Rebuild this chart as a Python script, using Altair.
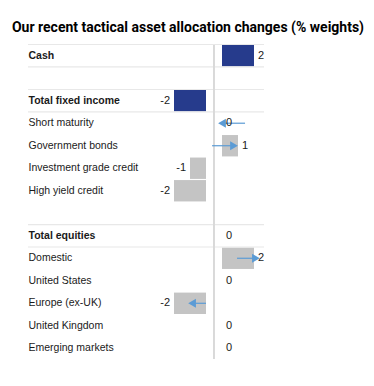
import altair as alt
import pandas as pd
import numpy as np

FONT = "Liberation Sans, Arial, sans-serif"
TFONT = "Roboto, sans-serif"

# row order including spacer rows
rows = ["Cash", "gap1", "Total fixed income", "Short maturity", "Government bonds",
        "Investment grade credit", "High yield credit", "gap2", "Total equities",
        "Domestic", "United States", "Europe (ex-UK)", "United Kingdom", "Emerging markets"]

categories = ["Cash", "Total fixed income", "Short maturity", "Government bonds",
              "Investment grade credit", "High yield credit", "Total equities",
              "Domestic", "United States", "Europe (ex-UK)", "United Kingdom",
              "Emerging markets"]
values = [2, -2, 0, 1, -1, -2, 0, 2, 0, -2, 0, 0]
kinds = ["total", "total", "sub", "sub", "sub", "sub", "total",
         "sub", "sub", "sub", "sub", "sub"]
bold_rows = ["Cash", "Total fixed income", "Total equities"]

# arrows (axis units)
arrow_rows = ["Short maturity", "Government bonds", "Domestic", "Europe (ex-UK)"]
arrow_start = [1.94, -0.12, 1.44, -0.5]
arrow_head = [0.5, 1.25, 2.62, -1.37]

sep_rows = ["Cash", "Total fixed income", "Total equities"]

df = pd.DataFrame({"row": categories, "v": values, "kind": kinds})
sgn = np.sign(df["v"])
df["start"] = sgn * 0.5
df["end"] = df["v"] + sgn * 0.5
df.loc[df["v"] == 0, "end"] = 0.5
df["label"] = df["v"].astype(str)
df["zero"] = 0.0

adf = pd.DataFrame({"row": arrow_rows, "a0": arrow_start, "a1": arrow_head})
adf["dir"] = np.where(adf["a1"] > adf["a0"], "right", "left")

sdf = pd.DataFrame({"row": sep_rows})

W, H = 236, 314
step = H / len(rows)

yscale = alt.Scale(domain=rows, paddingInner=0.05, paddingOuter=0)
xscale = alt.Scale(domain=[-11.625, 3.125], nice=False, zero=False)

bold_list = ",".join("'%s'" % b for b in bold_rows)
yaxis = alt.Axis(
    title=None, orient="left", ticks=False, tickSize=0, domain=False, grid=False,
    labelAlign="left", labelPadding=0, labelFont=FONT, labelFontSize=10.5,
    labelColor="#1a1a1a",
    labelExpr="indexof(datum.value, 'gap') == 0 ? '' : datum.value",
    labelFontWeight=alt.ExprRef("indexof([%s], datum.value) >= 0 ? 'bold' : 'normal'" % bold_list),
)

Y = alt.Y("row:N", scale=yscale, axis=yaxis)
Yn = alt.Y("row:N", scale=yscale)

base = alt.Chart(df)

bars = base.transform_filter("datum.v != 0").mark_bar().encode(
    y=Y,
    x=alt.X("start:Q", scale=xscale, axis=None),
    x2="end:Q",
    color=alt.Color("kind:N", scale=alt.Scale(domain=["total", "sub"], range=["#263b8c", "#c4c4c4"]), legend=None),
)

lab_pos = base.transform_filter("datum.v >= 0").mark_text(
    align="left", baseline="middle", dx=4, font=FONT, fontSize=11, color="#1a1a1a"
).encode(y=Yn, x=alt.X("end:Q", scale=xscale), text="label:N")

lab_neg = base.transform_filter("datum.v < 0").mark_text(
    align="right", baseline="middle", dx=-4, font=FONT, fontSize=11, color="#1a1a1a"
).encode(y=Yn, x=alt.X("end:Q", scale=xscale), text="label:N")

zero = base.mark_rule(color="#d9d9d9", strokeWidth=1).encode(x=alt.X("zero:Q", scale=xscale))

sep_top = alt.Chart(sdf).mark_rule(color="#e8e8e8", strokeWidth=1.2, yOffset=-step / 2).encode(y=Yn)
sep_bot = alt.Chart(sdf).mark_rule(color="#e8e8e8", strokeWidth=1.2, yOffset=step / 2).encode(y=Yn)

arrow_line = alt.Chart(adf).mark_rule(color="#5b9bd5", strokeWidth=1.2).encode(
    y=Yn, x=alt.X("a0:Q", scale=xscale), x2="a1:Q")
arrow_pt = alt.Chart(adf).mark_point(filled=True, size=80, opacity=1, color="#5b9bd5").encode(
    y=Yn,
    x=alt.X("a1:Q", scale=xscale),
    shape=alt.Shape("dir:N", scale=alt.Scale(domain=["left", "right"], range=["triangle-left", "triangle-right"]), legend=None))

chart = alt.layer(bars, sep_top, sep_bot, zero, arrow_line, arrow_pt, lab_pos, lab_neg).properties(
    width=W, height=H,
    title=alt.TitleParams("Our recent tactical asset allocation changes (% weights)",
                          font=TFONT, fontSize=14, fontWeight="bold", color="#000000",
                          anchor="middle", dx=42, offset=9),
    autosize=alt.AutoSizeParams(type="none"),
    padding={"left": 20, "top": 37, "right": 102, "bottom": 10},
).configure_view(stroke=None)

chart.save("out.html", embed_options={"renderer": "svg", "actions": False})
